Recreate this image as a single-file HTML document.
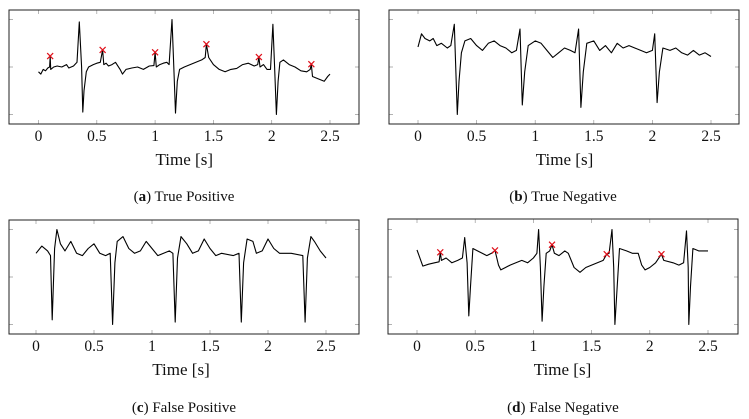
<!DOCTYPE html>
<html><head><meta charset="utf-8"><style>
html,body{margin:0;padding:0;background:#fff;}
svg{display:block;font-family:"Liberation Serif",serif;}
</style></head><body>
<svg id="c" width="749" height="419" viewBox="0 0 749 419"></svg>
<script>
const ticksX=[0,0.5,1,1.5,2,2.5];
const tickLabels=["0","0.5","1","1.5","2","2.5"];
const ticksY=[-1,0,1];
const tA=[0,.02,.04,.06,.08,.095,.1,.105,.13,.16,.2,.24,.26,.3,.33,.35,.37,.38,.39,.41,.43,.47,.5,.53,.55,.56,.58,.6,.63,.66,.7,.72,.75,.8,.85,.9,.95,.99,1.0,1.01,1.04,1.07,1.1,1.12,1.145,1.16,1.175,1.19,1.21,1.25,1.3,1.35,1.4,1.43,1.44,1.46,1.5,1.55,1.6,1.65,1.7,1.75,1.8,1.85,1.88,1.89,1.9,1.93,1.96,1.99,2.01,2.025,2.04,2.055,2.07,2.1,2.15,2.2,2.25,2.3,2.33,2.34,2.35,2.4,2.45,2.48,2.5];
const vA=[-.1,-.15,-.05,-.08,-.02,0,.22,-.05,0,.02,0,.05,-.02,.02,.1,.95,0,-.95,-.5,-.1,0,.05,.08,.1,.36,.05,.08,.02,.05,.1,-.05,-.15,-.05,-.02,0,-.05,.02,.03,.31,0,.05,.08,.1,.05,1.0,0,-.97,-.3,-.05,0,.05,.1,.15,.2,.48,.2,.05,-.05,-.1,-.05,-.03,.05,.08,.02,.05,.21,0,.05,-.05,-.05,.9,0,-1.0,-.3,.1,.15,.05,0,-.08,-.1,-.05,.06,-.2,-.25,-.3,-.2,-.15];
const mtA=[.1,.55,1.0,1.44,1.89,2.34];
const mvA=[.23,.36,.31,.48,.21,.06];
const tB=[0,.03,.06,.1,.13,.16,.2,.25,.28,.31,.335,.35,.37,.4,.45,.5,.55,.6,.65,.7,.75,.8,.84,.87,.89,.91,.94,1.0,1.05,1.1,1.15,1.2,1.25,1.3,1.34,1.37,1.39,1.41,1.44,1.5,1.55,1.6,1.65,1.7,1.75,1.8,1.85,1.9,1.95,2.0,2.02,2.04,2.06,2.09,2.15,2.2,2.25,2.3,2.35,2.4,2.45,2.5];
const vB=[.42,.7,.6,.55,.6,.45,.5,.4,.45,.9,-1.0,-.3,.3,.55,.6,.45,.35,.5,.55,.45,.4,.3,.35,.8,-.8,-.1,.45,.55,.5,.35,.2,.3,.4,.35,.3,.8,-.85,-.1,.5,.55,.35,.45,.3,.5,.4,.45,.4,.35,.3,.35,.7,-.75,-.1,.4,.35,.4,.3,.25,.35,.25,.3,.22];
const tC=[0,.05,.1,.125,.14,.16,.18,.21,.25,.3,.35,.4,.45,.5,.55,.6,.64,.66,.68,.7,.75,.8,.85,.9,.95,1.0,1.05,1.1,1.15,1.18,1.2,1.22,1.25,1.3,1.35,1.4,1.45,1.5,1.55,1.6,1.7,1.75,1.77,1.79,1.82,1.87,1.9,1.95,2.0,2.05,2.1,2.2,2.3,2.32,2.34,2.37,2.4,2.45,2.5];
const vC=[.5,.65,.55,.45,-.9,.6,1.0,.7,.55,.75,.5,.45,.6,.7,.5,.45,.5,-1.0,.3,.75,.85,.6,.5,.55,.75,.6,.45,.5,.55,.5,-.95,.4,.85,.7,.5,.55,.8,.6,.45,.5,.45,.5,-.95,.3,.8,.75,.5,.55,.8,.6,.5,.5,.45,-.95,.4,.85,.75,.55,.4];
const tD=[0,.05,.1,.15,.19,.2,.21,.25,.3,.35,.39,.41,.43,.445,.46,.48,.52,.56,.6,.64,.67,.7,.72,.76,.8,.85,.9,.95,1.0,1.03,1.045,1.06,1.075,1.09,1.11,1.14,1.16,1.18,1.22,1.27,1.3,1.35,1.4,1.45,1.5,1.55,1.6,1.63,1.65,1.675,1.69,1.7,1.72,1.74,1.8,1.85,1.9,1.93,1.96,2.0,2.05,2.1,2.12,2.2,2.25,2.29,2.315,2.33,2.335,2.35,2.37,2.42,2.5];
const vD=[.57,.23,.27,.3,.32,.52,.35,.4,.3,.35,.4,.83,.3,-.82,-.2,.6,.55,.5,.45,.5,.56,.25,.15,.2,.25,.3,.35,.3,.4,.5,1.0,.2,-.93,-.2,.5,.55,.68,.5,.45,.55,.5,.2,.1,.2,.25,.3,.35,.48,.5,1.0,.2,-1.0,-.2,.6,.55,.5,.5,.25,.15,.2,.3,.48,.35,.3,.25,.3,.97,.2,-1.0,-.2,.6,.55,.55];
const mtD=[.2,.67,1.16,1.63,2.1];
const mvD=[.52,.56,.68,.48,.48];

const panels=[
 {id:"a",L:9,R:359,T:10,B:124,x0:38.5,x1:330,mid:67,t:tA,v:vA,mt:mtA,mv:mvA,cap:"a",capText:" True Positive",capX:184,capY:201},
 {id:"b",L:389,R:739,T:10,B:124,x0:418,x1:711,mid:67,t:tB,v:vB,mt:[],mv:[],cap:"b",capText:" True Negative",capX:563,capY:201},
 {id:"c",L:9,R:359,T:220,B:334,x0:36,x1:326,mid:277,t:tC,v:vC,mt:[],mv:[],cap:"c",capText:" False Positive",capX:184,capY:412},
 {id:"d",L:388,R:738,T:219,B:334,x0:417,x1:708,mid:277,t:tD,v:vD,mt:mtD,mv:mvD,cap:"d",capText:" False Negative",capX:563,capY:412}
];
const NS="http://www.w3.org/2000/svg";
const svg=document.getElementById('c');
function mk(tag,attrs,parent){const e=document.createElementNS(NS,tag);for(const k in attrs)e.setAttribute(k,attrs[k]);(parent||svg).appendChild(e);return e;}
panels.forEach(p=>{
 const g=mk('g',{});
 
 
 const xs=t=>p.x0+(p.x1-p.x0)*t/2.5;
 const ys=v=>p.mid-47.5*v;
 ticksX.forEach((t,i)=>{
  const x=xs(t);
  const tk=mk('path',{d:`M${x},${p.T}v4M${x},${p.B}v-4`,stroke:'#999','stroke-width':0.7},g);
  
  
  const tx=mk('text',{x:x,y:p.B+17,'text-anchor':'middle','font-size':15.5,fill:'#111'},g);
  tx.textContent=tickLabels[i];
  
  
 });
 ticksY.forEach(v=>{
  const y=ys(v);
  const tk=mk('path',{d:`M${p.L},${y}h4M${p.R},${y}h-4`,stroke:'#999','stroke-width':0.7},g);
  
  
 });
 const d=p.t.map((t,i)=>(i?'L':'M')+xs(t).toFixed(1)+','+ys(p.v[i]).toFixed(1)).join('');
 const line=mk('path',{d:d,fill:'none',stroke:'#000','stroke-width':1.1,'stroke-linejoin':'round'},g);
 
 
 p.mt.forEach((t,i)=>{
  const x=xs(t),y=ys(p.mv[i]);
  const m=mk('path',{d:`M${x-3},${y-3}L${x+3},${y+3}M${x-3},${y+3}L${x+3},${y-3}`,stroke:'#e0101a','stroke-width':1.2},g);
  
  
 });
 const box=mk('rect',{x:p.L,y:p.T,width:p.R-p.L,height:p.B-p.T,fill:'none',stroke:'#222','stroke-width':1},g);
 
 
 const xl=mk('text',{x:(p.x0+p.x1)/2,y:p.B+41,'text-anchor':'middle','font-size':17,fill:'#111'},g);
 xl.textContent='Time [s]';
 
 
 const cp=mk('text',{x:p.capX,y:p.capY,'text-anchor':'middle','font-size':15,fill:'#111'},g);
 
 
 const s1=mk('tspan',{},cp);s1.textContent='(';
 const s2=mk('tspan',{'font-weight':'bold'},cp);s2.textContent=p.cap;
 const s3=mk('tspan',{},cp);s3.textContent=')'+p.capText;
});
</script>
</body></html>
